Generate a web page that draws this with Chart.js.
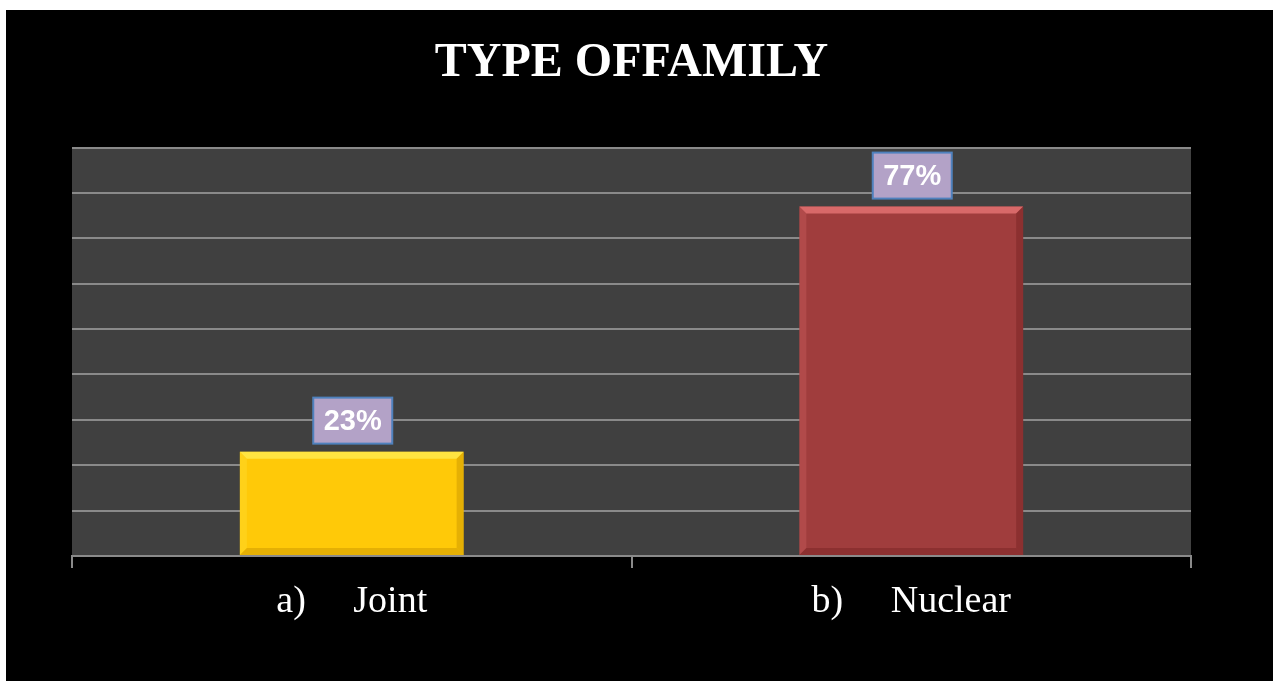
<!DOCTYPE html>
<html lang="en">
<head>
<meta charset="UTF-8">
<script src="https://cdn.jsdelivr.net/npm/chart.js@4.4.0/dist/chart.umd.min.js"></script>
<title>Type of Family</title>
<style>
  body { margin: 0; background: #ffffff; }
  #wrap {
    position: absolute;
    left: 6px;
    top: 10px;
    width: 1267px;
    height: 671px;
    background: #000000;
  }
</style>
</head>
<body>
<div id="wrap">
  <canvas id="famChart"></canvas>
</div>
<script>
// data
var categories = ['a)     Joint', 'b)     Nuclear'];
var percentages = [23, 77];
var valueLabels = ['23%', '77%'];
var yMax = 90;
var yStep = 10;

var barColors = ['#FFC908', '#A03D3D'];
var bevelLight = ['rgba(255,240,90,0.7)', 'rgba(235,120,120,0.75)'];
var bevelDark = ['rgba(190,140,0,0.4)', 'rgba(110,30,30,0.4)'];

// plot background + bevel on bars + value boxes
var famPlugin = {
  id: 'famPlugin',
  beforeDraw: function(chart) {
    var a = chart.chartArea, ctx = chart.ctx;
    ctx.save();
    ctx.fillStyle = '#404040';
    ctx.fillRect(a.left, a.top, a.right - a.left, a.bottom - a.top);
    ctx.restore();
  },
  afterDatasetsDraw: function(chart) {
    var ctx = chart.ctx;
    var meta = chart.getDatasetMeta(0);
    meta.data.forEach(function(bar, i) {
      var p = bar.getProps(['x', 'y', 'base', 'width'], true);
      var l = p.x - p.width / 2, r = p.x + p.width / 2, t = p.y, b = p.base;
      var bv = 7;
      ctx.save();
      // top bevel
      ctx.fillStyle = bevelLight[i];
      ctx.beginPath();
      ctx.moveTo(l, t); ctx.lineTo(r, t); ctx.lineTo(r - bv, t + bv); ctx.lineTo(l + bv, t + bv);
      ctx.closePath(); ctx.fill();
      // left bevel
      ctx.globalAlpha = 0.3;
      ctx.beginPath();
      ctx.moveTo(l, t); ctx.lineTo(l + bv, t + bv); ctx.lineTo(l + bv, b - bv); ctx.lineTo(l, b);
      ctx.closePath(); ctx.fill();
      ctx.globalAlpha = 1;
      // right + bottom bevel
      ctx.fillStyle = bevelDark[i];
      ctx.beginPath();
      ctx.moveTo(r, t); ctx.lineTo(r, b); ctx.lineTo(r - bv, b - bv); ctx.lineTo(r - bv, t + bv);
      ctx.closePath(); ctx.fill();
      ctx.beginPath();
      ctx.moveTo(l, b); ctx.lineTo(r, b); ctx.lineTo(r - bv, b - bv); ctx.lineTo(l + bv, b - bv);
      ctx.closePath(); ctx.fill();

      // value box
      var bw = 79, bh = 46;
      var bx = p.x + 1 - bw / 2, by = t - 8 - bh;
      ctx.fillStyle = '#B3A2C7';
      ctx.fillRect(bx, by, bw, bh);
      ctx.strokeStyle = '#4F81BD';
      ctx.lineWidth = 2;
      ctx.strokeRect(bx, by, bw, bh);
      ctx.fillStyle = '#ffffff';
      ctx.font = 'bold 29px "Liberation Sans", Arial, sans-serif';
      ctx.textAlign = 'center';
      ctx.textBaseline = 'middle';
      ctx.fillText(valueLabels[i], bx + bw / 2, by + bh / 2 + 1);
      ctx.restore();
    });
  }
};

var ctx = document.getElementById('famChart').getContext('2d');
var famChart = new Chart(ctx, {
  type: 'bar',
  data: {
    labels: categories,
    datasets: [{
      label: 'Type of family',
      data: percentages,
      backgroundColor: barColors,
      borderWidth: 0,
      categoryPercentage: 1.0,
      barPercentage: 0.4
    }]
  },
  options: {
    responsive: true,
    maintainAspectRatio: false,
    animation: false,
    layout: { padding: { left: 66, right: 82, top: 0, bottom: 0 } },
    plugins: {
      legend: { display: false },
      tooltip: { enabled: false },
      title: {
        display: true,
        text: 'TYPE OFFAMILY',
        color: '#ffffff',
        font: { family: '"Liberation Serif", "Times New Roman", serif', size: 48, weight: 'bold' },
        padding: { top: 25, bottom: 55 }
      }
    },
    scales: {
      y: {
        min: 0,
        max: yMax,
        ticks: { display: false, stepSize: yStep },
        border: { display: false },
        grid: { color: '#8a8a8a', lineWidth: 2, drawTicks: false }
      },
      x: {
        border: { display: true, color: '#8a8a8a', width: 2 },
        grid: { offset: true, drawOnChartArea: false, drawTicks: true, tickLength: 12, color: '#8a8a8a', lineWidth: 2 },
        ticks: {
          color: '#ffffff',
          padding: 11,
          font: { family: '"Liberation Serif", "Times New Roman", serif', size: 38 }
        },
        afterFit: function(scale) { scale.height = 125; }
      }
    }
  },
  plugins: [famPlugin]
});
</script>
</body>
</html>
